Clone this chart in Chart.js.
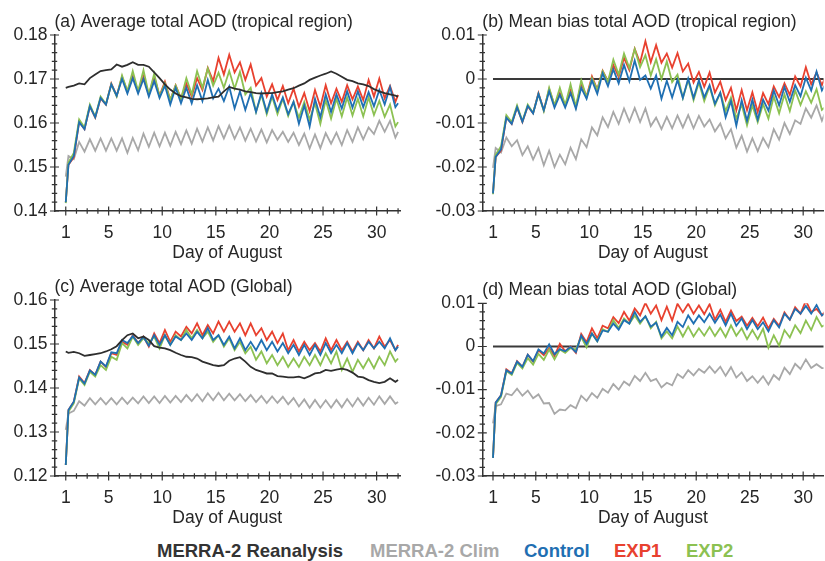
<!DOCTYPE html>
<html>
<head>
<meta charset="utf-8">
<script src="https://cdn.jsdelivr.net/npm/chart.js@4.4.0/dist/chart.umd.min.js"></script>
<style>
  html, body { margin: 0; padding: 0; background: #fff; }
  body { width: 825px; height: 561px; position: relative; overflow: hidden; font-family: "Liberation Sans", Arial, sans-serif; }
  canvas { position: absolute; }
  #legend span { position: absolute; top: 540px; font-weight: bold; font-size: 18.5px; white-space: nowrap; }
</style>
</head>
<body>
<canvas id="panelA" width="412" height="268" style="left:0;top:0"></canvas>
<canvas id="panelB" width="413" height="268" style="left:412px;top:0"></canvas>
<canvas id="panelC" width="412" height="268" style="left:0;top:265px"></canvas>
<canvas id="panelD" width="413" height="268" style="left:412px;top:268px"></canvas>
<div id="legend">
  <span style="left:157px;color:#333">MERRA-2 Reanalysis</span>
  <span style="left:370px;color:#a8a8a8">MERRA-2 Clim</span>
  <span style="left:524px;color:#1f6fb2">Control</span>
  <span style="left:614px;color:#e8412f">EXP1</span>
  <span style="left:686px;color:#8cc152">EXP2</span>
</div>
<script>
// time axis: 1 Aug 00Z, then the daily highs (x.25) and lows (x.75), up to 1 Sep
const days = [1, 1.25, 1.75, 2.25, 2.75, 3.25, 3.75, 4.25, 4.75, 5.25, 5.75, 6.25, 6.75, 7.25, 7.75, 8.25,
  8.75, 9.25, 9.75, 10.25, 10.75, 11.25, 11.75, 12.25, 12.75, 13.25, 13.75, 14.25, 14.75, 15.25, 15.75, 16.25,
  16.75, 17.25, 17.75, 18.25, 18.75, 19.25, 19.75, 20.25, 20.75, 21.25, 21.75, 22.25, 22.75, 23.25, 23.75, 24.25,
  24.75, 25.25, 25.75, 26.25, 26.75, 27.25, 27.75, 28.25, 28.75, 29.25, 29.75, 30.25, 30.75, 31.25, 31.75, 32];
const dayTicks = [1, 5, 10, 15, 20, 25, 30];
const zeroDays = [1, 32];
const zeroLine = [0, 0];

// (a) tropical average total AOD
const tropReanalysis = [0.168, 0.1682, 0.1685, 0.169, 0.1688, 0.1702, 0.171, 0.1718, 0.172, 0.1722,
  0.1733, 0.1728, 0.1732, 0.1738, 0.1732, 0.1732, 0.1728, 0.1715, 0.1702, 0.1688,
  0.1676, 0.1667, 0.1661, 0.1658, 0.1655, 0.1654, 0.1655, 0.1656, 0.1658, 0.166,
  0.1672, 0.1682, 0.1678, 0.1676, 0.1672, 0.167, 0.1668, 0.1667, 0.1668, 0.1668,
  0.167, 0.1672, 0.1676, 0.1679, 0.1685, 0.169, 0.1698, 0.1703, 0.1708, 0.1712,
  0.1717, 0.1712, 0.1705, 0.1698, 0.1695, 0.169, 0.1688, 0.1684, 0.1677, 0.1672,
  0.1668, 0.1665, 0.1662, 0.166];
const tropClim = [0.1478, 0.1525, 0.1518, 0.1557, 0.1535, 0.1563, 0.1537, 0.1565, 0.1537, 0.1565,
  0.1537, 0.1565, 0.1532, 0.1566, 0.1538, 0.1576, 0.1546, 0.1578, 0.1547, 0.1578,
  0.1548, 0.158, 0.1552, 0.1583, 0.1553, 0.1587, 0.1558, 0.159, 0.156, 0.1593,
  0.1565, 0.1594, 0.1564, 0.159, 0.156, 0.1587, 0.1558, 0.1585, 0.1556, 0.1584,
  0.1562, 0.158, 0.1557, 0.1578, 0.155, 0.1576, 0.1542, 0.1574, 0.1543, 0.1577,
  0.1553, 0.1578, 0.155, 0.1584, 0.1557, 0.159, 0.1563, 0.159, 0.1575, 0.1605,
  0.158, 0.1605, 0.1567, 0.158];
const tropControl = [0.142, 0.1505, 0.1525, 0.1602, 0.1586, 0.1638, 0.1613, 0.1657, 0.1642, 0.1688,
  0.1662, 0.17, 0.1667, 0.1702, 0.1667, 0.17, 0.166, 0.1695, 0.1657, 0.1685,
  0.1642, 0.168, 0.1645, 0.168, 0.1645, 0.1686, 0.165, 0.1698, 0.1656, 0.1678,
  0.165, 0.1683, 0.1633, 0.1672, 0.163, 0.1668, 0.1625, 0.1668, 0.1625, 0.1665,
  0.1628, 0.1658, 0.162, 0.1648, 0.1598, 0.164, 0.1592, 0.1655, 0.1613, 0.1665,
  0.1625, 0.1665, 0.1633, 0.1672, 0.1635, 0.1672, 0.1636, 0.167, 0.1638, 0.1675,
  0.1642, 0.1682, 0.1636, 0.1645];
const tropExp1 = [0.142, 0.1505, 0.1522, 0.1603, 0.1586, 0.1638, 0.1612, 0.1656, 0.1642, 0.169,
  0.1662, 0.1705, 0.1672, 0.1706, 0.1672, 0.1706, 0.1664, 0.1705, 0.1662, 0.1694,
  0.1652, 0.1686, 0.1656, 0.169, 0.166, 0.1702, 0.1675, 0.1725, 0.1695, 0.1748,
  0.171, 0.1755, 0.1715, 0.1738, 0.1698, 0.1733, 0.1685, 0.1702, 0.166, 0.1688,
  0.1652, 0.1684, 0.1645, 0.1678, 0.1637, 0.1668, 0.1627, 0.1675, 0.1637, 0.1686,
  0.1645, 0.1678, 0.1648, 0.1686, 0.1654, 0.1683, 0.1652, 0.1698, 0.166, 0.1701,
  0.1656, 0.1684, 0.1648, 0.1664];
const tropExp2 = [0.1418, 0.151, 0.1532, 0.1608, 0.159, 0.1642, 0.1614, 0.166, 0.1643, 0.1688,
  0.166, 0.1708, 0.1672, 0.1718, 0.1672, 0.172, 0.1665, 0.1712, 0.166, 0.169,
  0.1652, 0.1685, 0.1655, 0.1702, 0.1665, 0.1718, 0.168, 0.1724, 0.1685, 0.1714,
  0.168, 0.1718, 0.1678, 0.1716, 0.1665, 0.168, 0.1625, 0.1665, 0.162, 0.166,
  0.162, 0.1655, 0.1616, 0.1648, 0.1612, 0.1648, 0.1608, 0.1645, 0.1598, 0.1652,
  0.161, 0.1655, 0.1615, 0.1658, 0.1617, 0.1655, 0.1615, 0.1658, 0.1618, 0.165,
  0.1614, 0.1642, 0.1592, 0.1602];

// (b) tropical mean bias
const tropBiasClim = [-0.0202, -0.0157, -0.0167, -0.0133, -0.0153, -0.0139, -0.0173, -0.0153, -0.0183, -0.0157,
  -0.0196, -0.0163, -0.02, -0.0172, -0.0194, -0.0156, -0.0182, -0.0137, -0.0155, -0.011,
  -0.0128, -0.0087, -0.0109, -0.0075, -0.0102, -0.0067, -0.0097, -0.0066, -0.0098, -0.0067,
  -0.0107, -0.0088, -0.0114, -0.0086, -0.0112, -0.0083, -0.011, -0.0082, -0.0112, -0.0084,
  -0.0108, -0.0092, -0.0119, -0.0101, -0.0135, -0.0114, -0.0156, -0.0129, -0.0165, -0.0135,
  -0.0164, -0.0134, -0.0155, -0.0114, -0.0138, -0.01, -0.0125, -0.0094, -0.0102, -0.0067,
  -0.0088, -0.006, -0.0095, -0.008];
const tropBiasControl = [-0.026, -0.0177, -0.016, -0.0088, -0.0102, -0.0064, -0.0097, -0.0061, -0.0078, -0.0034,
  -0.0071, -0.0028, -0.0065, -0.0036, -0.0065, -0.0032, -0.0068, -0.002, -0.0045, -0.0003,
  -0.0034, 0.0013, -0.0016, 0.0022, -0.001, 0.0032, -0.0005, 0.0042, -0.0002, 0.0008,
  -0.0022, 0.0008, -0.0045, -0.0004, -0.0042, -0.0002, -0.0043, 0.0001, -0.0043, -0.0003,
  -0.0042, -0.0014, -0.0056, -0.0031, -0.0087, -0.005, -0.0106, -0.0048, -0.0095, -0.0047,
  -0.0092, -0.0047, -0.0072, -0.0026, -0.006, -0.0018, -0.0052, -0.0014, -0.0039, 0.0003,
  -0.0026, 0.0017, -0.0026, -0.0015];
const tropBiasExp1 = [-0.026, -0.0177, -0.0163, -0.0087, -0.0102, -0.0064, -0.0098, -0.0062, -0.0078, -0.0032,
  -0.0071, -0.0023, -0.006, -0.0032, -0.006, -0.0026, -0.0064, -0.001, -0.004, 0.0006,
  -0.0024, 0.0019, -0.0005, 0.0032, 0.0005, 0.0048, 0.002, 0.0069, 0.0037, 0.0086,
  0.0038, 0.0077, 0.0037, 0.0058, 0.0026, 0.0059, 0.0017, 0.0035, -0.0008, 0.0016,
  -0.0018, 0.0015, -0.0031, -0.0006, -0.0048, -0.002, -0.0071, -0.0025, -0.0071, -0.003,
  -0.0075, -0.0032, -0.0057, -0.0017, -0.0041, -0.001, -0.0036, 0.0006, -0.0017, 0.0027,
  -0.0012, 0.0015, -0.0014, 0.0];
const tropBiasExp2 = [-0.0262, -0.0172, -0.0153, -0.0082, -0.0098, -0.006, -0.0096, -0.0058, -0.0077, -0.0034,
  -0.0073, -0.002, -0.006, -0.002, -0.006, -0.0012, -0.0063, -0.0003, -0.0042, 0.0002,
  -0.0024, 0.0018, -0.0006, 0.0044, 0.001, 0.0058, 0.0025, 0.0068, 0.0027, 0.0054,
  0.0008, 0.0045, 0.0, 0.004, -0.0007, 0.001, -0.0043, -0.0002, -0.0048, -0.0008,
  -0.005, -0.0017, -0.006, -0.0031, -0.0073, -0.0042, -0.009, -0.0058, -0.0105, -0.006,
  -0.0098, -0.0057, -0.009, -0.004, -0.0078, -0.0035, -0.0073, -0.0026, -0.0059, -0.0028,
  -0.0054, -0.0023, -0.007, -0.0065];

// (c) global average total AOD
const globReanalysis = [0.1483, 0.148, 0.1482, 0.1479, 0.1473, 0.1475, 0.1477, 0.1479, 0.1483, 0.1488,
  0.1495, 0.1509, 0.152, 0.1524, 0.1513, 0.1517, 0.1509, 0.1495, 0.1492, 0.149,
  0.1486, 0.148, 0.1475, 0.1471, 0.147, 0.1467, 0.146, 0.1456, 0.1452, 0.145,
  0.1452, 0.1462, 0.1467, 0.147, 0.146, 0.1448, 0.1441, 0.1437, 0.1433, 0.1433,
  0.1427, 0.1426, 0.1424, 0.1424, 0.1426, 0.1422, 0.1427, 0.1433, 0.1435, 0.1441,
  0.1439, 0.1442, 0.1444, 0.1441, 0.1435, 0.1426, 0.1424, 0.1418, 0.1414, 0.1411,
  0.1414, 0.1422, 0.1414, 0.1418];
const globClim = [0.1305, 0.1342, 0.1348, 0.137, 0.136, 0.1377, 0.1363, 0.1377, 0.1363, 0.1377,
  0.1363, 0.1378, 0.1364, 0.1378, 0.1365, 0.1381, 0.1366, 0.1381, 0.1366, 0.1382,
  0.1367, 0.1382, 0.1368, 0.1384, 0.137, 0.1386, 0.137, 0.1388, 0.1372, 0.1389,
  0.1372, 0.1387, 0.1372, 0.1386, 0.137, 0.1384, 0.1368, 0.1382, 0.1366, 0.1381,
  0.1366, 0.138, 0.1363, 0.1377, 0.1358, 0.1374, 0.1355, 0.1373, 0.1355, 0.1372,
  0.1355, 0.1373, 0.1356, 0.1375, 0.1358, 0.1377, 0.136, 0.1378, 0.1362, 0.1381,
  0.1364, 0.1381, 0.1364, 0.1368];
const globControl = [0.1225, 0.135, 0.1369, 0.1424, 0.141, 0.144, 0.143, 0.146, 0.1449, 0.1481,
  0.1479, 0.1509, 0.1502, 0.1518, 0.1502, 0.1516, 0.1496, 0.152, 0.1498, 0.152,
  0.1498, 0.1517, 0.1509, 0.1524, 0.1509, 0.1528, 0.1513, 0.1536, 0.1509, 0.152,
  0.1498, 0.1517, 0.149, 0.1513, 0.1486, 0.1505, 0.1486, 0.1509, 0.1486, 0.1505,
  0.1483, 0.1502, 0.1479, 0.1498, 0.1475, 0.1498, 0.1475, 0.1498, 0.1475, 0.1502,
  0.1479, 0.1498, 0.1479, 0.1502, 0.1479, 0.1502, 0.1486, 0.1505, 0.149, 0.1505,
  0.149, 0.1513, 0.1486, 0.1494];
const globExp1 = [0.1225, 0.135, 0.1369, 0.1426, 0.1411, 0.1441, 0.143, 0.146, 0.1448, 0.1479,
  0.1475, 0.1505, 0.1498, 0.152, 0.1502, 0.1517, 0.1494, 0.1524, 0.1502, 0.1532,
  0.1505, 0.1528, 0.1517, 0.1539, 0.1524, 0.1547, 0.152, 0.1543, 0.1524, 0.1551,
  0.1528, 0.1551, 0.1528, 0.1547, 0.152, 0.1547, 0.152, 0.1536, 0.1509, 0.1528,
  0.1502, 0.1524, 0.1486, 0.1509, 0.1483, 0.1505, 0.1486, 0.1502, 0.1483, 0.1513,
  0.1486, 0.1509, 0.1486, 0.1505, 0.1483, 0.1505, 0.1486, 0.1509, 0.149, 0.1517,
  0.1494, 0.1509, 0.1486, 0.1498];
const globExp2 = [0.1225, 0.1346, 0.1365, 0.1422, 0.1407, 0.1437, 0.1426, 0.1452, 0.1441, 0.1471,
  0.1464, 0.1502, 0.149, 0.1517, 0.1498, 0.1513, 0.1502, 0.1517, 0.149, 0.152,
  0.1498, 0.152, 0.1509, 0.1532, 0.1513, 0.1532, 0.1513, 0.1528, 0.1505, 0.152,
  0.1494, 0.1513, 0.1486, 0.1505, 0.1479, 0.1494, 0.1464, 0.1483, 0.1456, 0.1475,
  0.1452, 0.1471, 0.1448, 0.1467, 0.1448, 0.1471, 0.1452, 0.1475, 0.1452, 0.1479,
  0.1456, 0.1483, 0.1441, 0.1467, 0.1437, 0.1464, 0.1445, 0.1467, 0.1445, 0.1471,
  0.1452, 0.1483, 0.146, 0.1467];

// (d) global mean bias
const globBiasClim = [-0.0178, -0.0138, -0.0134, -0.0109, -0.0113, -0.0098, -0.0114, -0.0102, -0.012, -0.0111,
  -0.0132, -0.0131, -0.0156, -0.0146, -0.0148, -0.0136, -0.0143, -0.0114, -0.0126, -0.0108,
  -0.0119, -0.0098, -0.0107, -0.0087, -0.01, -0.0081, -0.009, -0.0068, -0.008, -0.0061,
  -0.008, -0.0075, -0.0095, -0.0084, -0.009, -0.0064, -0.0073, -0.0055, -0.0067, -0.0052,
  -0.0061, -0.0046, -0.0061, -0.0047, -0.0068, -0.0048, -0.0072, -0.006, -0.008, -0.0069,
  -0.0084, -0.0069, -0.0088, -0.0066, -0.0077, -0.0049, -0.0064, -0.004, -0.0052, -0.003,
  -0.005, -0.0041, -0.005, -0.005];
const globBiasControl = [-0.0258, -0.013, -0.0113, -0.0055, -0.0063, -0.0035, -0.0047, -0.0019, -0.0034, -0.0007,
  -0.0016, 0.0005, -0.0018, -0.0006, -0.0011, -0.0001, -0.0013, 0.0025, 0.0006, 0.003,
  0.0012, 0.0037, 0.0034, 0.0053, 0.0039, 0.0061, 0.0053, 0.008, 0.0057, 0.007,
  0.0046, 0.0055, 0.0023, 0.0043, 0.0026, 0.0057, 0.0045, 0.0072, 0.0053, 0.0072,
  0.0056, 0.0076, 0.0055, 0.0074, 0.0049, 0.0076, 0.0048, 0.0065, 0.004, 0.0061,
  0.004, 0.0056, 0.0035, 0.0061, 0.0044, 0.0076, 0.0062, 0.0087, 0.0076, 0.0094,
  0.0076, 0.0096, 0.0072, 0.0076];
const globBiasExp1 = [-0.0258, -0.013, -0.0113, -0.0053, -0.0062, -0.0034, -0.0047, -0.0019, -0.0035, -0.0009,
  -0.002, -0.0004, -0.0022, 0.0006, -0.0011, 0.0, -0.0015, 0.0029, 0.001, 0.0042,
  0.0019, 0.0048, 0.0042, 0.0068, 0.0054, 0.008, 0.006, 0.0088, 0.0072, 0.0101,
  0.0076, 0.0095, 0.0061, 0.0092, 0.006, 0.0099, 0.0079, 0.0099, 0.0076, 0.0095,
  0.0075, 0.0098, 0.0062, 0.0085, 0.0057, 0.0083, 0.0059, 0.0069, 0.0048, 0.0066,
  0.0047, 0.0067, 0.0042, 0.0064, 0.0048, 0.0079, 0.0062, 0.0091, 0.0076, 0.0106,
  0.008, 0.0087, 0.0072, 0.008];
const globBiasExp2 = [-0.0258, -0.0134, -0.0117, -0.0057, -0.0066, -0.0038, -0.0051, -0.0027, -0.0042, -0.0017,
  -0.0031, -0.0007, -0.003, -0.0007, -0.0015, -0.0004, -0.0007, 0.0022, -0.0002, 0.003,
  0.0012, 0.004, 0.0034, 0.0061, 0.0043, 0.0065, 0.0053, 0.0072, 0.0053, 0.007,
  0.0042, 0.0057, 0.0019, 0.0035, 0.0019, 0.0046, 0.0023, 0.0046, 0.0023, 0.0042,
  0.0025, 0.0045, 0.0024, 0.0043, 0.0022, 0.0049, 0.0025, 0.0042, 0.0017, 0.0038,
  0.0017, 0.0041, -0.0003, 0.0026, 0.0002, 0.0038, 0.0021, 0.0049, 0.0031, 0.006,
  0.0038, 0.0068, 0.0046, 0.0049];

const avgTicks = {
  trop: [0.14, 0.15, 0.16, 0.17, 0.18],
  glob: [0.12, 0.13, 0.14, 0.15, 0.16]
};
const biasTicks = [-0.03, -0.02, -0.01, 0, 0.01];

const FONT = '"Liberation Sans", Arial, Helvetica, sans-serif';
const INK = '#262626';
const COLORS = { reanalysis: '#2e2e2e', clim: '#a8a8a8', control: '#1f6fb2', exp1: '#e8412f', exp2: '#8cc152' };

// little ticks crossing the axis lines (majors longer)
const tickMarks = {
  id: 'tickMarks',
  afterDraw(chart, args, opts) {
    const { ctx, chartArea } = chart;
    const x = chart.scales.x, y = chart.scales.y;
    ctx.save();
    ctx.strokeStyle = '#333';
    ctx.lineWidth = 1.2;
    ctx.beginPath();
    const n = Math.round((opts.yMax - opts.yMin) / 0.002);
    for (let k = 0; k <= n; k++) {
      const py = y.getPixelForValue(opts.yMin + k * 0.002);
      const len = k % 5 === 0 ? 4.5 : 2.7;
      ctx.moveTo(chartArea.left - len, py);
      ctx.lineTo(chartArea.left + len, py);
    }
    for (let d = 1; d <= 32; d++) {
      const px = x.getPixelForValue(d);
      if (px > chartArea.right + 0.5) break;
      const len = (d === 1 || d % 5 === 0) ? 4.5 : 2.7;
      ctx.moveTo(px, chartArea.bottom - len);
      ctx.lineTo(px, chartArea.bottom + len);
    }
    ctx.stroke();
    ctx.restore();
  }
};

function line(arr, color, xs, width) {
  return {
    data: (xs || days).map((d, i) => ({ x: d, y: arr[i] })),
    borderColor: color,
    borderWidth: width || 1.8,
    pointRadius: 0,
    tension: 0,
    fill: false
  };
}

function panel(id, p) {
  const titleTop = p.chartTop - 23.2;
  new Chart(document.getElementById(id), {
    type: 'line',
    data: { datasets: p.datasets },
    options: {
      responsive: false,
      animation: false,
      devicePixelRatio: 1,
      layout: { padding: { left: 0, right: p.padRight, top: 0, bottom: p.padBottom } },
      plugins: {
        legend: { display: false },
        tooltip: { enabled: false },
        title: {
          display: true, text: p.title, align: 'start', fullSize: false, color: INK,
          font: { size: 17.5, weight: 'normal', family: FONT, lineHeight: 1.2 },
          padding: { top: titleTop, bottom: p.chartTop - titleTop - 21 }
        },
        tickMarks: { yMin: p.yTicks[0], yMax: p.yTicks[p.yTicks.length - 1] }
      },
      scales: {
        x: {
          type: 'linear', min: p.xMin, max: p.xMax,
          grid: { display: false, drawTicks: false },
          border: { display: true, color: '#333', width: 1.5 },
          afterBuildTicks: s => { s.ticks = dayTicks.map(v => ({ value: v })); },
          afterFit: s => { s.height = 53; },
          ticks: { padding: 12, color: INK, autoSkip: false, maxRotation: 0, font: { size: 17.5, family: FONT } },
          title: { display: true, text: 'Day of August', color: INK, font: { size: 17.5, family: FONT }, padding: { top: 0, bottom: 0 } }
        },
        y: {
          type: 'linear', min: p.yTicks[0], max: p.yTicks[p.yTicks.length - 1],
          grid: { display: false, drawTicks: false },
          border: { display: true, color: '#333', width: 1.5 },
          afterBuildTicks: s => { s.ticks = p.yTicks.map(v => ({ value: v })); },
          afterFit: s => { s.width = p.yWidth; },
          ticks: {
            padding: 7, color: INK, font: { size: 17.5, family: FONT },
            callback: v => Math.abs(v) < 1e-9 ? '0' : v.toFixed(2)
          }
        }
      }
    },
    plugins: [tickMarks]
  });
}

panel('panelA', {
  title: '(a) Average total AOD (tropical region)',
  yTicks: avgTicks.trop, xMin: -0.05, xMax: 32.18,
  yWidth: 54.5, padRight: 12, chartTop: 35, padBottom: 4,
  datasets: [
    line(tropReanalysis, COLORS.reanalysis),
    line(tropControl, COLORS.control),
    line(tropExp2, COLORS.exp2),
    line(tropExp1, COLORS.exp1),
    line(tropClim, COLORS.clim)
  ]
});

panel('panelB', {
  title: '(b) Mean bias total AOD (tropical region)',
  yTicks: biasTicks, xMin: 0, xMax: 31.9,
  yWidth: 70.3, padRight: 0, chartTop: 35, padBottom: 4,
  datasets: [
    line(tropBiasControl, COLORS.control),
    line(tropBiasExp2, COLORS.exp2),
    line(tropBiasExp1, COLORS.exp1),
    line(tropBiasClim, COLORS.clim),
    line(zeroLine, '#3a3a3a', zeroDays, 2.2)
  ]
});

panel('panelC', {
  title: '(c) Average total AOD (Global)',
  yTicks: avgTicks.glob, xMin: -0.05, xMax: 32.18,
  yWidth: 54.5, padRight: 12, chartTop: 35, padBottom: 4,
  datasets: [
    line(globReanalysis, COLORS.reanalysis),
    line(globControl, COLORS.control),
    line(globExp2, COLORS.exp2),
    line(globExp1, COLORS.exp1),
    line(globClim, COLORS.clim)
  ]
});

panel('panelD', {
  title: '(d) Mean bias total AOD (Global)',
  yTicks: biasTicks, xMin: 0, xMax: 31.9,
  yWidth: 70.3, padRight: 0, chartTop: 35.3, padBottom: 7,
  datasets: [
    line(globBiasControl, COLORS.control),
    line(globBiasExp2, COLORS.exp2),
    line(globBiasExp1, COLORS.exp1),
    line(globBiasClim, COLORS.clim),
    line(zeroLine, '#3a3a3a', zeroDays, 2.2)
  ]
});
</script>
</body>
</html>
